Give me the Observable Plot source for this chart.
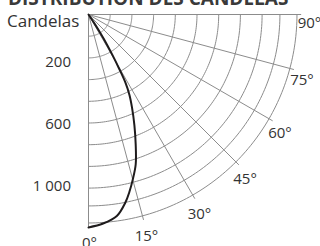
<!DOCTYPE html>
<html><head><meta charset="utf-8">
<script src="https://cdn.jsdelivr.net/npm/d3@7"></script>
<script src="https://cdn.jsdelivr.net/npm/@observablehq/plot@0.6"></script>
<style>
body{margin:0;background:#fff;}
#wrap{position:relative;width:320px;height:246px;overflow:hidden;font-family:"Open Sans",sans-serif;color:#333;}
#chart{position:absolute;left:0;top:0;}
#title{position:absolute;left:8px;top:-11px;font-weight:700;font-size:19px;line-height:19px;white-space:nowrap;color:#3a3a3a;z-index:2;}
#unit{position:absolute;left:7px;top:12px;font-size:17px;line-height:17px;white-space:nowrap;color:#333;z-index:2;}
</style></head>
<body>
<div id="wrap">
  <div id="chart"></div>
  <div id="title">DISTRIBUTION DES CANDELAS</div>
  <div id="unit">Candelas</div>
</div>
<script>
// ---- data ----
const angles = [0, 15, 30, 45, 60, 75, 90];
const angleLabels = ["0°", "15°", "30°", "45°", "60°", "75°", "90°"];
const rings = [140, 280, 420, 560, 700, 840, 980, 1120, 1235, 1345];
const candelaTicks = [200, 600, 1000];
const candelaTickLabels = ["200", "600", "1 000"];
const curveAngle = [0, 4, 8, 11, 13, 15, 17.5, 20, 22.5, 25, 27, 28.5, 29.5, 30.5, 31.5, 32.5, 33.5, 35];
const curveCandela = [1374, 1352, 1313, 1239, 1174, 1103, 1013, 890, 774, 665, 581, 497, 400, 310, 232, 142, 65, 0];

// ---- layout ----
const W = 320, H = 246;
const K = 0.155;          // px per candela
const OX = 88, OY = 14;   // pole position
const RADIAL_END = 1372;  // length of radial lines
const LABEL_R = 1419;     // radius of angle labels
const rad = Math.PI / 180;
const px = (a, r) => r * Math.sin(a * rad);
const py = (a, r) => r * Math.cos(a * rad);

const arcs = rings.flatMap(r => d3.range(0, 90.01, 1).map(a => ({r, a})));
const curve = curveAngle.map((a, i) => ({a, r: curveCandela[i]}));
const aLabels = angles.map((a, i) => ({a, label: angleLabels[i]}));
const cLabels = candelaTicks.map((v, i) => ({v, label: candelaTickLabels[i]}));

const grid = "#8c8c8c";
const chart = Plot.plot({
  width: W, height: H, margin: 0,
  style: {fontFamily: "'Open Sans', sans-serif", background: "transparent", overflow: "visible"},
  x: {domain: [-OX / K, (W - OX) / K], range: [0, W], axis: null},
  y: {domain: [-OY / K, (H - OY) / K], range: [0, H], axis: null},
  marks: [
    Plot.line(arcs, {x: d => px(d.a, d.r), y: d => py(d.a, d.r), z: "r", stroke: grid, strokeWidth: 1}),
    Plot.link(angles, {x1: 0, y1: 0, x2: a => px(a, RADIAL_END), y2: a => py(a, RADIAL_END), stroke: grid, strokeWidth: 1}),
    Plot.line(curve, {x: d => px(d.a, d.r), y: d => py(d.a, d.r), stroke: "#1e1b1c", strokeWidth: 2, curve: "catmull-rom"}),
    Plot.text(aLabels, {x: d => px(d.a, LABEL_R), y: d => py(d.a, LABEL_R), text: "label", dx: 1, dy: 9, fontSize: 15, fill: "#333"}),
    Plot.text(cLabels, {x: 0, y: "v", text: "label", textAnchor: "end", dx: -17.5, dy: 17, fontSize: 15, fill: "#333"})
  ]
});
document.getElementById("chart").appendChild(chart);
</script>
</body></html>
